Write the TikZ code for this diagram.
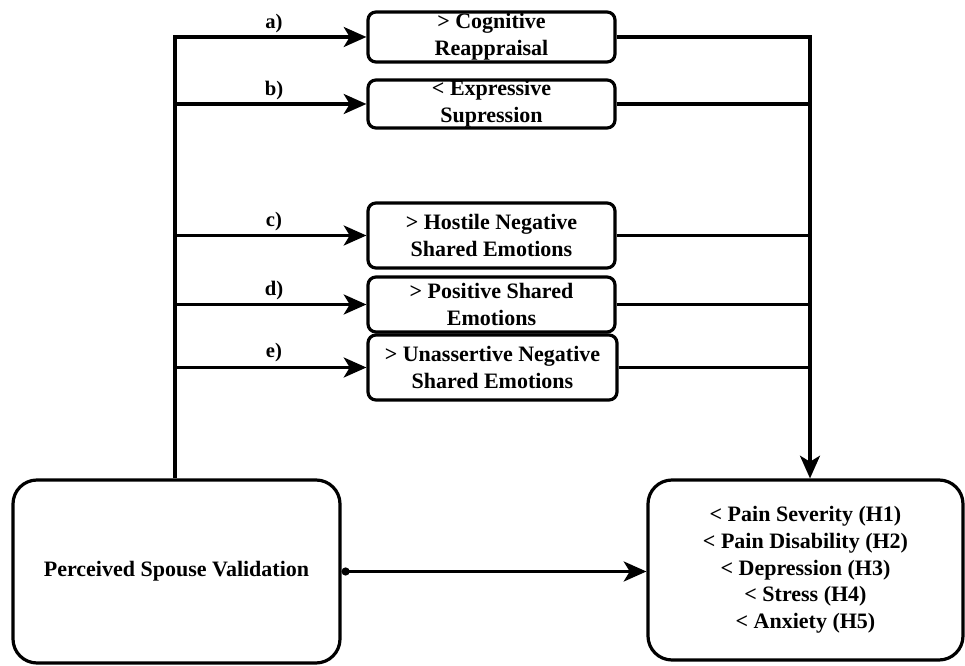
\documentclass[tikz,border=0pt]{standalone}
\usepackage{fontspec}
\setmainfont{LiberationSerif}[Extension=.ttf, UprightFont=*-Regular, BoldFont=*-Bold]
\usetikzlibrary{arrows.meta}
\begin{document}
\begin{tikzpicture}[x=0.75pt,y=-0.75pt,
  box/.style={draw=black, line width=2.4pt, rounded corners=6pt, fill=white,
    align=center, inner sep=0pt, font=\rmfamily\bfseries\fontsize{16.5}{20}\selectfont},
  bigbox/.style={box, rounded corners=18pt},
  lbl/.style={font=\rmfamily\bfseries\fontsize{15.5}{18}\selectfont, inner sep=0pt},
  wire/.style={draw=black, line width=2.4pt},
  tip/.tip={Stealth[length=17pt,width=15pt,inset=4.5pt]},
  arr/.style={wire, -tip}
]
\useasboundingbox (0,0) rectangle (965,666);
% mediator boxes
\node[box, minimum width=247*0.75pt, minimum height=50*0.75pt] (a) at (491.5,37) {> Cognitive\\Reappraisal};
\node[box, minimum width=247*0.75pt, minimum height=48*0.75pt] (b) at (491.5,104) {< Expressive\\Supression};
\node[box, minimum width=247*0.75pt, minimum height=65*0.75pt] (c) at (491.5,235.5) {> Hostile Negative\\Shared Emotions};
\node[box, minimum width=247*0.75pt, minimum height=55*0.75pt] (d) at (491.5,304.5) {> Positive Shared\\Emotions};
\node[box, minimum width=249*0.75pt, minimum height=65*0.75pt] (e) at (492.5,367.5) {> Unassertive Negative\\Shared Emotions};
% main boxes
\node[bigbox, minimum width=327*0.75pt, minimum height=183*0.75pt] (psv) at (176.5,571.5) {Perceived Spouse Validation};
\node[bigbox, minimum width=315*0.75pt, minimum height=180*0.75pt] (out) at (805.5,570)
  {< Pain Severity (H1)\\< Pain Disability (H2)\\< Depression (H3)\\< Stress (H4)\\< Anxiety (H5)};
% trunks
\coordinate (tl) at (175,37);
\coordinate (tr) at (810,37);
% left side arrows
\draw[arr] (tl |- psv.north) -- (tl) -- (a.west);
\draw[arr] (tl |- b.west) -- (b.west);
\draw[arr] (tl |- c.west) -- (c.west);
\draw[arr] (tl |- d.west) -- (d.west);
\draw[arr] (tl |- e.west) -- (e.west);
% labels
\node[lbl] (la) at (274,24) {a)};
\node[lbl] (lb) at (274,91) {b)};
\node[lbl] (lc) at (274,222) {c)};
\node[lbl] (ld) at (274,291) {d)};
\node[lbl] (le) at (274,353) {e)};
% right side
\draw[arr] (a.east) -- (tr) -- (tr |- out.north);
\draw[wire] (b.east) -- (tr |- b.east);
\draw[wire] (c.east) -- (tr |- c.east);
\draw[wire] (d.east) -- (tr |- d.east);
\draw[wire] (e.east) -- (tr |- e.east);
% direct path
\draw[wire, {Circle[length=6pt]}-tip] (psv.east) -- (psv.east -| out.west);
\end{tikzpicture}
\end{document}
